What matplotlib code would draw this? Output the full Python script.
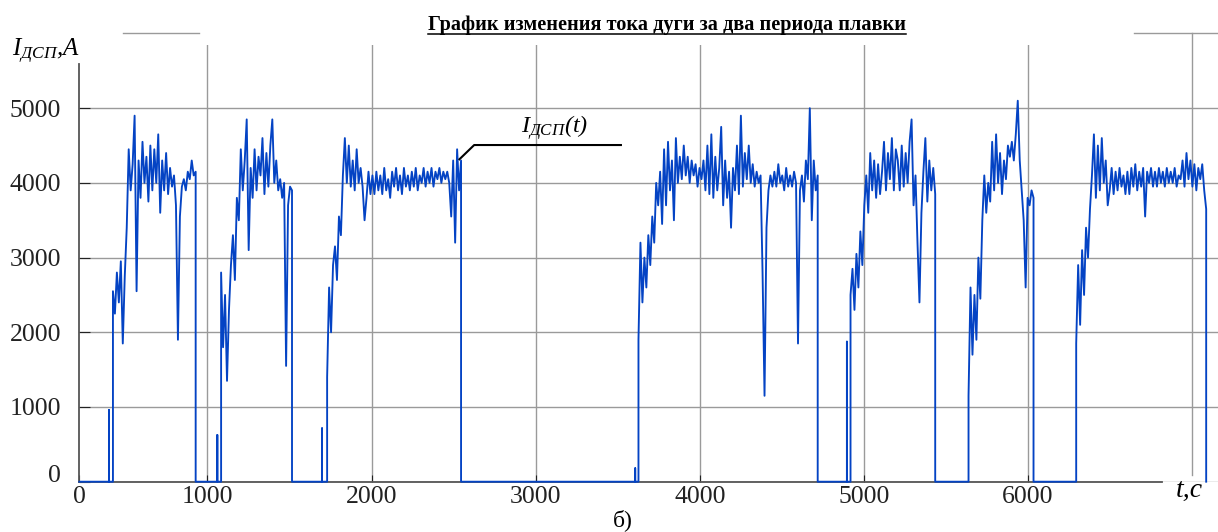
import matplotlib
matplotlib.use('Agg')
import matplotlib.pyplot as plt
from matplotlib.lines import Line2D
import numpy as np

plt.rcParams['font.family'] = ['Liberation Serif', 'DejaVu Serif']
plt.rcParams['mathtext.fontset'] = 'custom'
plt.rcParams['mathtext.rm'] = 'Liberation Serif'
plt.rcParams['mathtext.it'] = 'Liberation Serif:italic'

# arc current, A; every block sampled each 12 s
step = 12
t_begin = 219
spike_t = [400, 1060, 1698, 3606, 4896]
spike_v = [960, 625, 715, 180, 1875]
block_start = [424, 1083, 1729, 3626, 4918, 5637, 6293]

block1 = [2550, 2250, 2800, 2400, 2950, 1850, 2750, 3400, 4450, 3900,
          4250, 4900, 2550, 4300, 3800, 4550, 4000, 4350, 3750, 4500,
          3900, 4450, 4000, 4650, 3600, 4300, 3900, 4400, 3850, 4200,
          3950, 4100, 3700, 1900, 3550, 3950, 4050, 3900, 4150, 4050,
          4300, 4100, 4150]
block2 = [2800, 1800, 2500, 1350, 2300, 2900, 3300, 2700, 3800, 3500,
          4450, 3900, 4300, 4850, 3100, 4200, 3800, 4450, 3900, 4350,
          4100, 4600, 3850, 4400, 3950, 4500, 4850, 4000, 4300, 3900,
          4050, 3800, 4000, 1550, 3700, 3950, 3900]
block3 = [1400, 2600, 2000, 2900, 3150, 2700, 3550, 3300, 4100, 4600,
          4000, 4500, 3950, 4300, 3900, 4450, 4000, 4200, 3950, 3500,
          3800, 4150, 3850, 4100, 3850, 4150, 3900, 4100, 3850, 4200,
          3900, 4050, 3800, 4150, 3950, 4200, 3900, 4100, 3850, 4200,
          3950, 4100, 3900, 4150, 3950, 4200, 3900, 4100, 4000, 4200,
          3950, 4150, 4000, 4200, 3950, 4150, 4050, 4200, 4000, 4150,
          4050, 4150, 4000, 3550, 4300, 3200, 4450, 3900, 4300]
block4 = [1900, 3200, 2400, 3000, 2600, 3300, 2900, 3550, 3200, 4000,
          3700, 4150, 3450, 4450, 3700, 4550, 3900, 4300, 3500, 4600,
          4000, 4350, 4050, 4500, 4100, 4350, 4000, 4300, 4100, 4250,
          3950, 4200, 4050, 4300, 3900, 4500, 3850, 4650, 3800, 4350,
          3900, 4200, 4750, 3700, 4300, 3800, 4150, 3400, 4200, 3900,
          4500, 3850, 4900, 3950, 4400, 4050, 4500, 4000, 4250, 3950,
          4150, 4000, 4100, 2800, 1150, 3400, 3900, 4100, 3950, 4150,
          3950, 4250, 4000, 4100, 3900, 4200, 3950, 4100, 3950, 4150,
          4000, 1850, 3900, 4100, 3750, 4300, 4050, 5000, 3500, 4300,
          3900, 4100]
block5 = [2500, 2850, 2300, 3050, 2600, 3350, 2900, 3700, 4100, 3600,
          4400, 3900, 4300, 3800, 4250, 3850, 4150, 4550, 3900, 4400,
          4050, 4600, 3900, 4450, 4300, 3900, 4500, 3950, 4400, 4000,
          4550, 4850, 3700, 4100, 3200, 2400, 3600, 4150, 4600, 3750,
          4300, 3900, 4200, 3850]
block6 = [1150, 2600, 1700, 2500, 1900, 3000, 2450, 3500, 4100, 3600,
          4000, 3750, 4550, 3900, 4650, 4000, 4400, 3850, 4300, 4050,
          4500, 4350, 4550, 4300, 4650, 5100, 4300, 3900, 3500, 2600,
          3800, 3700, 3900, 3800]
block7 = [1850, 2900, 2100, 3100, 2500, 3400, 3000, 3650, 4100, 4650,
          3800, 4500, 3900, 4600, 4000, 4300, 3700, 3900, 4200, 3850,
          4150, 3900, 4200, 3950, 4100, 3850, 4150, 3850, 4200, 3950,
          4250, 3900, 4150, 3950, 4200, 3550, 4150, 4000, 4200, 3950,
          4150, 3950, 4200, 4000, 4150, 3950, 4200, 4000, 4150, 4000,
          4200, 3950, 4100, 4050, 4300, 3950, 4400, 4050, 4300, 3950,
          4250, 3900, 4200, 4050, 4250, 3900, 3650]
blocks = [block1, block2, block3, block4, block5, block6, block7]

# assemble the trace: zero between working periods
segs = [(t, [v]) for t, v in zip(spike_t, spike_v)]
segs += [(t0, b) for t0, b in zip(block_start, blocks)]
segs.sort(key=lambda s: s[0])
tt = [t_begin]
yy = [0]
for t0, vals in segs:
    ts = t0 + step * np.arange(len(vals))
    tt += [t0] + list(ts) + [ts[-1]]
    yy += [0] + list(vals) + [0]
tt = np.array(tt, dtype=float)
yy = np.array(yy, dtype=float)

xticks = [219, 1000, 2000, 3000, 4000, 5000, 6000]
xlabels = ['0', '1000', '2000', '3000', '4000', '5000', '6000']
yticks = [0, 1000, 2000, 3000, 4000, 5000]

fig = plt.figure(figsize=(12.18, 5.32), dpi=100)
ax = fig.add_axes([79.3 / 1218, 50.3 / 532, 1 - 79.3 / 1218, 436.7 / 532])
ax.set_xlim(219, 7157)
ax.set_ylim(0, 5846)

ax.plot(tt, yy, color='#0443c4', lw=1.35, clip_on=False, zorder=3)

for s in ['top', 'right']:
    ax.spines[s].set_visible(False)
ax.spines['left'].set_bounds(0, 5592)
ax.spines['bottom'].set_bounds(219, 6817)
for s in ['left', 'bottom']:
    ax.spines[s].set_color('#555555')
    ax.spines[s].set_linewidth(1.3)
    ax.spines[s].set_zorder(2)

ax.set_xticks(xticks, xlabels)
ax.set_yticks(yticks)
ax.tick_params(axis='both', direction='in', labelsize=18.5, colors='#222222')
ax.tick_params(axis='x', length=5, pad=3)
ax.tick_params(axis='y', length=8, pad=13)
ax.get_yticklabels()[0].set_va('baseline')
ax.grid(True, color='#9a9a9a', lw=1.0, zorder=1)
ax.get_xgridlines()[0].set_visible(False)
ax.axvline(7000, ymin=0.015, ymax=1.027, color='#9a9a9a', lw=1.0, clip_on=False)

# leader line to the curve
ax.plot([2535, 2625, 3519], [4316, 4507, 4507], color='black', lw=1.5, zorder=4)
ax.text(3118, 4740, '$I_{ДСП}$(t)', fontsize=17.5, fontstyle='italic',
        ha='center', va='center')

fig.text(12 / 1218, 1 - 56 / 532, '$I_{ДСП}$,A', fontsize=18,
         fontstyle='italic', ha='left', va='baseline')
fig.text(1176 / 1218, 1 - 497 / 532, 't,c', fontsize=20, fontstyle='italic',
         ha='left', va='baseline')
fig.text(623 / 1218, 1 - 520 / 532, 'б)', fontsize=17, ha='center', va='center')

title = fig.text(667 / 1218, 1 - 30 / 532,
                 'График изменения тока дуги за два периода плавки',
                 fontsize=14.6, fontweight='bold', ha='center', va='baseline')

for x0, x1 in [(123, 199), (1134, 1218)]:
    fig.add_artist(Line2D([x0 / 1218, x1 / 1218], [1 - 33 / 532] * 2,
                          color='#9a9a9a', lw=1.0))

fig.canvas.draw()
bb = title.get_window_extent()
W, H = fig.canvas.get_width_height()
uy = 1 - 33.5 / 532
fig.add_artist(Line2D([bb.x0 / W, bb.x1 / W], [uy, uy], color='black', lw=1.1))

fig.savefig('out.png', dpi=100)
